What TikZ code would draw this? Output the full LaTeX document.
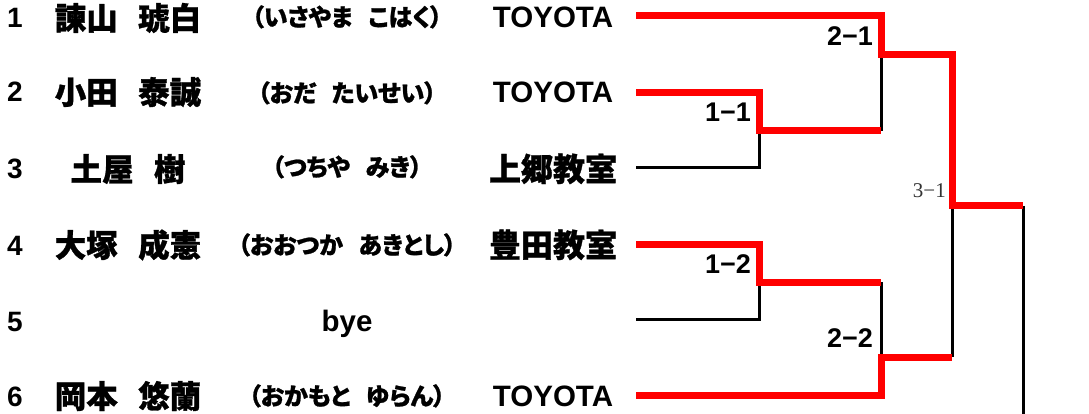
\documentclass[tikz,border=0pt]{standalone}
\usepackage{fontspec}
\setmainfont{Liberation Sans}
\newfontfamily\jpfont{Noto Sans CJK JP}[BoldFeatures={FakeBold=1}]
\newfontfamily\kanafont{Noto Sans CJK JP}[RawFeature=+palt, BoldFeatures={FakeBold=1}]
\newfontfamily\serfont{Liberation Serif}
\usepackage{tikz}
\usetikzlibrary{positioning}
\newcommand{\gap}[1]{\hspace{#1em}}
\tikzstyle{num} = [inner sep=0pt, anchor=base, font=\fontsize{28}{28}\selectfont\bfseries]
\tikzstyle{player} = [inner sep=0pt, anchor=base, font=\jpfont\fontsize{31.5}{31.5}\selectfont\bfseries]
\tikzstyle{reading} = [inner sep=0pt, anchor=base, font=\kanafont\fontsize{24}{24}\selectfont\bfseries]
\tikzstyle{club} = [inner sep=0pt, anchor=base, font=\fontsize{29.5}{29.5}\selectfont\bfseries]
\tikzstyle{jclub} = [inner sep=0pt, anchor=base, font=\jpfont\fontsize{32}{32}\selectfont\bfseries]
\tikzstyle{score} = [inner sep=0pt, anchor=base east, font=\fontsize{27}{27}\selectfont\bfseries]
\tikzstyle{win} = [draw=red, line width=7pt]
\tikzstyle{lose} = [draw, line width=3pt]

\begin{document}
\begin{tikzpicture}[x=1pt, y=-1pt]
			\useasboundingbox (0,0) rectangle (1089,414);

			\node [num] (no1) at (15, 28) {1};
			\node [num] (no2) at (15, 102) {2};
			\node [num] (no3) at (15, 179) {3};
			\node [num] (no4) at (15, 255) {4};
			\node [num] (no5) at (15, 331) {5};
			\node [num] (no6) at (15, 406) {6};

			\node [player] (pl1) at (128, 30) {諫山\gap{0.65}琥白};
			\node [player] (pl2) at (128, 104) {小田\gap{0.65}泰誠};
			\node [player] (pl3) at (128, 181) {土屋\gap{0.65}樹};
			\node [player] (pl4) at (128, 257) {大塚\gap{0.65}成憲};
			\node [player] (pl6) at (128, 408) {岡本\gap{0.65}悠蘭};

			\node [reading] (rd1) at (347, 26) {（いさやま\gap{0.65}こはく）};
			\node [reading] (rd2) at (347, 102) {（おだ\gap{0.65}たいせい）};
			\node [reading] (rd3) at (347, 176) {（つちや\gap{0.65}みき）};
			\node [reading] (rd4) at (347, 254) {（おおつか\gap{0.65}あきとし）};
			\node [club] (bye5) at (347, 331) {bye};
			\node [reading] (rd6) at (347, 405) {（おかもと\gap{0.65}ゆらん）};

			\node [club] (cl1) at (553, 28) {TOYOTA};
			\node [club] (cl2) at (553, 103) {TOYOTA};
			\node [jclub] (cl3) at (553, 181) {上郷教室};
			\node [jclub] (cl4) at (553, 257) {豊田教室};
			\node [club] (cl6) at (553, 406) {TOYOTA};

			% entries and joints of the bracket
			\coordinate (e1) at (636, 16);
			\coordinate (e2) at (636, 93);
			\coordinate (e3) at (636, 168);
			\coordinate (e4) at (636, 244);
			\coordinate (e5) at (636, 319);
			\coordinate (e6) at (636, 395);
			\coordinate (s11) at (759, 131);
			\coordinate (s12) at (759, 282);
			\coordinate (j21) at (881, 131);
			\coordinate (j22) at (881, 282);
			\coordinate (s21) at (881, 55);
			\coordinate (s22) at (881, 357);
			\coordinate (j31) at (952, 357);
			\coordinate (s31) at (952, 206);
			\coordinate (s41) at (1023, 206);
			\coordinate (bot) at (1023, 414);

			\path [lose] (e3) -| (s11);
			\path [lose] (e5) -| (s12);
			\path [lose] (j21) -- (s21);
			\path [lose] (j22) -- (s22);
			\path [lose] (j31) -- (s31);
			\path [lose] (s41) -- (bot);

			\path [win] (e1) -| (s21) -| (s31) -- (s41);
			\path [win] (e2) -| (s11) -- (j21);
			\path [win] (e4) -| (s12) -- (j22);
			\path [win] (e6) -| (s22) -- (j31);

			\node [score] (m11) at (751, 122) {1−1};
			\node [score] (m12) at (751, 273) {1−2};
			\node [score] (m21) at (873, 46) {2−1};
			\node [score] (m22) at (873, 347) {2−2};
			\node [score, font=\serfont\fontsize{21}{21}\selectfont, text=black!80] (m31) at (946, 197) {3−1};
		\end{tikzpicture}
\end{document}
